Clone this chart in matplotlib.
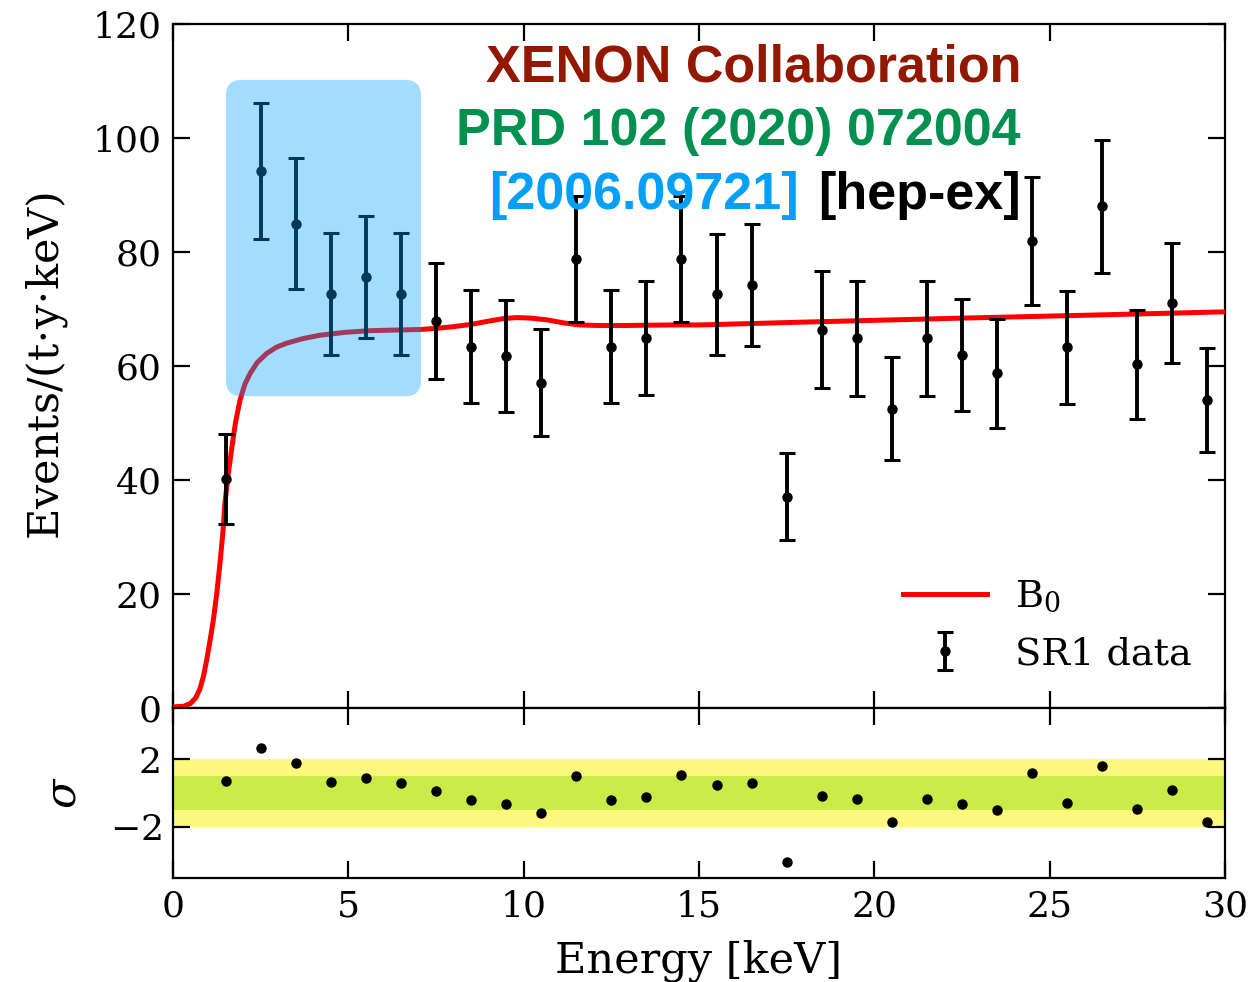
import matplotlib
matplotlib.use("Agg")
import matplotlib.pyplot as plt
from matplotlib.patches import FancyBboxPatch

# Bin centres [keV] and measured rates [events/(t y keV)]
energy = [1.5, 2.5, 3.5, 4.5, 5.5, 6.5, 7.5, 8.5, 9.5, 10.5,
          11.5, 12.5, 13.5, 14.5, 15.5, 16.5, 17.5, 18.5, 19.5, 20.5,
          21.5, 22.5, 23.5, 24.5, 25.5, 26.5, 27.5, 28.5, 29.5]
rate = [40.2, 94.2, 85.0, 72.6, 75.7, 72.6, 67.9, 63.4, 61.8, 57.1,
        78.8, 63.4, 64.9, 78.8, 72.6, 74.2, 37.1, 66.4, 64.9, 52.5,
        64.9, 61.9, 58.7, 81.9, 63.3, 88.0, 60.3, 71.1, 54.0]
rate_err = [7.9, 12.0, 11.5, 10.7, 10.7, 10.7, 10.2, 9.9, 9.8, 9.4,
            11.0, 9.9, 10.0, 11.0, 10.6, 10.7, 7.6, 10.2, 10.1, 9.0,
            10.1, 9.8, 9.5, 11.2, 9.9, 11.7, 9.6, 10.5, 9.1]

# Residuals of the data with respect to the B0 model [sigma]
residual = [0.70, 2.71, 1.78, 0.66, 0.88, 0.60, 0.13, -0.43, -0.68, -1.20,
            1.03, -0.39, -0.23, 1.05, 0.48, 0.62, -4.09, -0.15, -0.33, -1.75,
            -0.35, -0.68, -1.04, 1.19, -0.58, 1.63, -0.94, 0.17, -1.71]

# Background model B0
b0_energy = [0.0, 0.3, 0.5, 0.65, 0.77, 0.87, 0.96, 1.05, 1.15, 1.25,
             1.34, 1.42, 1.48, 1.57, 1.67, 1.78, 1.91, 2.05, 2.2, 2.4,
             2.67, 2.95, 3.24, 3.7, 4.19, 4.9, 5.62, 6.3, 7.04, 7.5,
             8.0, 8.5, 8.94, 9.4, 9.8, 10.2, 10.66, 11.1, 11.6, 12.2,
             12.75, 14.2, 15.0, 18.0, 22.5, 26.0, 30.0]
b0_rate = [0.2, 0.3, 0.8, 1.8, 3.4, 5.6, 8.4, 11.6, 15.4, 20.2,
           25.4, 30.6, 35.9, 40.8, 45.3, 50.0, 54.0, 56.8, 58.7, 60.6,
           62.2, 63.3, 64.0, 64.8, 65.4, 65.9, 66.2, 66.3, 66.4, 66.6,
           66.9, 67.3, 67.8, 68.3, 68.5, 68.4, 68.1, 67.6, 67.2, 67.1,
           67.1, 67.2, 67.2, 67.7, 68.4, 68.9, 69.5]

x_ticks = [0, 5, 10, 15, 20, 25, 30]
y_ticks = [0, 20, 40, 60, 80, 100, 120]
sigma_ticks = [-2, 2]

plt.rcParams["font.family"] = ["DejaVu Serif"]
plt.rcParams["mathtext.fontset"] = "dejavuserif"
plt.rcParams["axes.linewidth"] = 1.6

fig = plt.figure(figsize=(12.51, 9.82), dpi=100)
L, R = 173 / 1251, 1225 / 1251
ax = fig.add_axes([L, 1 - 708 / 982, R - L, (708 - 24) / 982])
axr = fig.add_axes([L, 1 - 878 / 982, R - L, (878 - 708) / 982], sharex=ax)

for a in (ax, axr):
    a.tick_params(direction="in", length=12, width=1.6, top=True, right=True,
                  labelsize=26, pad=8)

# Main panel
line, = ax.plot(b0_energy, b0_rate, color="#ff0000", lw=3.6, zorder=3,
                label="B$_0$")
eb = ax.errorbar(energy, rate, yerr=rate_err, fmt="o", color="black",
                 ms=6.5, elinewidth=2.8, capsize=5.5, capthick=2.2,
                 zorder=4, label="SR1 data")
ax.set_xlim(0, 30)
ax.set_ylim(0, 120)
ax.set_xticks(x_ticks)
ax.set_yticks(y_ticks)
ax.tick_params(labelbottom=False)
ax.set_ylabel("Events/(t$\\cdot$y$\\cdot$keV)", fontsize=31)
ax.yaxis.set_label_coords(-0.098, 0.5)

# Highlighted low-energy region
box = FancyBboxPatch((1.51, 54.7), 7.07 - 1.51, 110.2 - 54.7,
                     boxstyle="round,pad=0,rounding_size=0.45",
                     mutation_aspect=6.15, facecolor="#00a0ff", alpha=0.36,
                     edgecolor="none", zorder=5)
ax.add_patch(box)

ax.legend(handles=[line, eb], loc="lower right", frameon=False, fontsize=27.5,
          handlelength=2.2, handletextpad=0.75, labelspacing=0.55,
          borderaxespad=0.75, bbox_to_anchor=(1 + 11 / 1052, -8 / 684))

# Residual panel
axr.axhspan(-2, 2, color="#fff87e", lw=0, zorder=0)
axr.axhspan(-1, 1, color="#c9ec48", lw=0, zorder=1)
axr.plot(energy, residual, "o", color="black", ms=6.5, zorder=3)
axr.set_ylim(-5.07, 5.07)
axr.set_yticks(sigma_ticks)
axr.set_yticklabels(["$-2$", "2"])
axr.set_xticks(x_ticks)
axr.set_xlabel("Energy [keV]", fontsize=31, labelpad=12)
axr.set_ylabel("$\\sigma$", fontsize=31)
axr.yaxis.set_label_coords(-0.084, 0.5)

# Publication reference
ref_font = {"family": "Liberation Sans", "weight": "bold", "size": 37.5}
fig.text(1021 / 1251, 1 - 82 / 982, "XENON Collaboration", color="#921800",
         ha="right", va="baseline", **ref_font)
fig.text(1021 / 1251, 1 - 145 / 982, "PRD 102 (2020) 072004", color="#00904f",
         ha="right", va="baseline", **ref_font)
fig.text(1021 / 1251, 1 - 209 / 982, "[hep-ex]", color="black",
         ha="right", va="baseline", **ref_font)
fig.text(799 / 1251, 1 - 209 / 982, "[2006.09721]", color="#04a0f7",
         ha="right", va="baseline", **ref_font)

fig.savefig("out.png", dpi=100)
